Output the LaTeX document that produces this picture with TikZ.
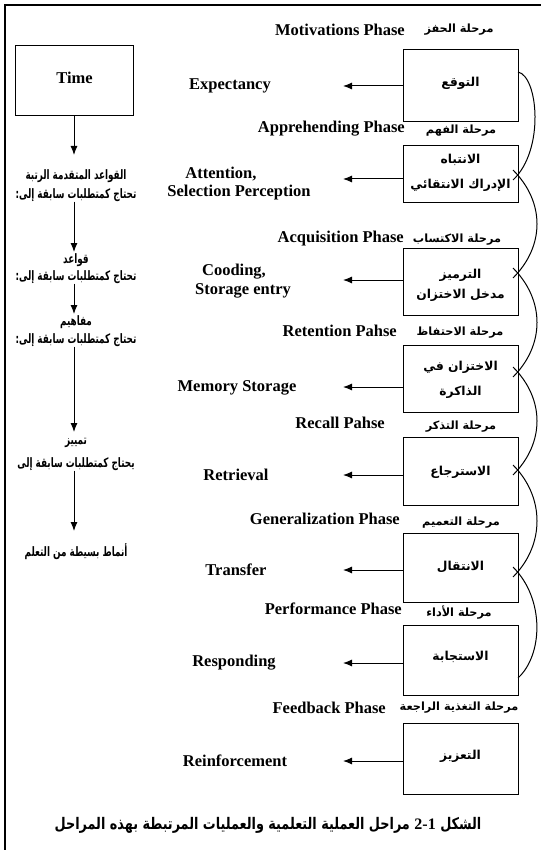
\documentclass[tikz,border=0pt]{standalone}
\usepackage{fontspec}
\setmainfont{Liberation Serif}
\newfontfamily\arfont[Script=Arabic]{DejaVu Sans}
\newfontfamily\arfontn[Script=Arabic,FakeStretch=0.68]{DejaVu Sans}
\newfontfamily\arfontc[Script=Arabic,FakeStretch=0.8]{DejaVu Sans}
\TeXXeTstate=1
\usetikzlibrary{arrows.meta}
\begin{document}
\begin{tikzpicture}[x=1pt,y=-1pt,
  box/.style={draw, line width=1pt, minimum width=115pt, inner sep=0pt},
  en/.style={font=\bfseries\fontsize{16.5}{19}\selectfont, inner sep=0pt},
  ar/.style={font=\arfont\bfseries\fontsize{12.3}{14}\selectfont, inner sep=0pt},
  ph/.style={font=\arfont\bfseries\fontsize{11.3}{14}\selectfont, inner sep=0pt},
  lft/.style={font=\arfontn\bfseries\fontsize{13}{15}\selectfont, inner sep=0pt},
  capt/.style={font=\arfontc\bfseries\fontsize{16}{19}\selectfont, inner sep=0pt},
  arr/.style={-{Latex[length=9pt,width=7pt]}, line width=1pt},
  linkarc/.style={line width=1pt}]
\useasboundingbox (0,0) rectangle (541,850);
\fill[white] (0,0) rectangle (541,850);
% frame
\draw[line width=2pt] (5,850) -- (5,5) -- (541,5);

% ---------- right column boxes ----------
\node[box, minimum height=72pt] (b1) at (460.5,86) {};
\node[box, minimum height=57pt] (b2) at (460.5,174.5) {};
\node[box, minimum height=67pt] (b3) at (460.5,281.5) {};
\node[box, minimum height=67pt] (b4) at (460.5,378.5) {};
\node[box, minimum height=68pt] (b5) at (460.5,471) {};
\node[box, minimum height=69pt] (b6) at (460.5,567.5) {};
\node[box, minimum height=70pt] (b7) at (460.5,660) {};
\node[box, minimum height=71pt] (b8) at (460.5,758.5) {};

\node[ar] (b1t) at (460.5,83) {\beginR التوقع\endR};
\node[ar] (b2t) at (460.5,160) {\beginR الانتباه\endR};
\node[ar] (b2u) at (460.5,185) {\beginR الإدراك الانتقائي\endR};
\node[ar] (b3t) at (460.5,275) {\beginR الترميز\endR};
\node[ar] (b3u) at (460.5,295) {\beginR مدخل الاختزان\endR};
\node[ar] (b4t) at (460.5,367) {\beginR الاختزان في\endR};
\node[ar] (b4u) at (460.5,392) {\beginR الذاكرة\endR};
\node[ar] (b5t) at (460.5,472) {\beginR الاسترجاع\endR};
\node[ar] (b6t) at (460.5,567) {\beginR الانتقال\endR};
\node[ar] (b7t) at (460.5,657) {\beginR الاستجابة\endR};
\node[ar] (b8t) at (460.5,756) {\beginR التعزيز\endR};

% ---------- phase labels ----------
\node[en, anchor=east] (p1) at (405,30) {Motivations Phase};
\node[en, anchor=east] (p2) at (405,129) {Apprehending Phase};
\node[en, anchor=east] (p3) at (404,239) {Acquisition Phase};
\node[en, anchor=east] (p4) at (397,331) {Retention Pahse};
\node[en, anchor=east] (p5) at (385,423) {Recall Pahse};
\node[en, anchor=east] (p6) at (400,519) {Generalization Phase};
\node[en, anchor=east] (p7) at (402,609) {Performance Phase};
\node[en, anchor=east] (p8) at (386,708) {Feedback Phase};

\node[ph] (q1) at (459,30) {\beginR مرحلة الحفز\endR};
\node[ph] (q2) at (461,131) {\beginR مرحلة الفهم\endR};
\node[ph] (q3) at (457,240) {\beginR مرحلة الاكتساب\endR};
\node[ph] (q4) at (460,333) {\beginR مرحلة الاحتفاظ\endR};
\node[ph] (q5) at (461,427) {\beginR مرحلة التذكر\endR};
\node[ph] (q6) at (461,523) {\beginR مرحلة التعميم\endR};
\node[ph] (q7) at (459,613) {\beginR مرحلة الأداء\endR};
\node[ph] (q8) at (459,708) {\beginR مرحلة التغذية الراجعة\endR};

% ---------- process labels ----------
\node[en] (e1) at (230,86) {Expectancy};
\node[en] (e2a) at (221,174) {Attention,};
\node[en] (e2b) at (239,193) {Selection Perception};
\node[en] (e3a) at (234,272) {Cooding,};
\node[en] (e3b) at (243,291) {Storage entry};
\node[en] (e4) at (237,388) {Memory Storage};
\node[en] (e5) at (236,475) {Retrieval};
\node[en] (e6) at (236,570) {Transfer};
\node[en] (e7) at (234,663) {Responding};
\node[en] (e8) at (235,761) {Reinforcement};

% arrow tips
\coordinate (k1) at (343,86);
\coordinate (k2) at (343,179);
\coordinate (k3) at (343,280);
\coordinate (k4) at (343,387);
\coordinate (k5) at (343,475);
\coordinate (k6) at (343,570);
\coordinate (k7) at (343,663);
\coordinate (k8) at (343,761);
\foreach \i in {1,...,8}{
  \draw[arr] (b\i.west |- k\i) -- (k\i);
}

% ---------- chain of arcs on the right ----------
\draw[linkarc] (518,72) .. controls (538,76) and (545,150) .. (513,180);
\draw[linkarc] (513,170) .. controls (545,202) and (545,246) .. (513,278);
\draw[linkarc] (513,268) .. controls (545,300) and (545,345) .. (513,377);
\draw[linkarc] (513,367) .. controls (545,399) and (545,443) .. (513,475);
\draw[linkarc] (513,465) .. controls (545,497) and (545,545) .. (513,577);
\draw[linkarc] (513,567) .. controls (545,599) and (543,655) .. (518,678);

% ---------- left column ----------
\node[box, minimum width=118pt, minimum height=70pt] (time) at (74.5,81) {};
\node[en] (timet) at (74.5,78) {Time};

\node[lft] (L1) at (76,176) {\beginR القواعد المتقدمة الرتبة\endR};
\node[lft] (L2) at (76,195) {\beginR تحتاج كمتطلبات سابقة إلى:\endR};
\node[lft] (L3) at (76,260) {\beginR قواعد\endR};
\node[lft] (L4) at (76,277) {\beginR تحتاج كمتطلبات سابقة إلى:\endR};
\node[lft] (L5) at (76,322) {\beginR مفاهيم\endR};
\node[lft] (L6) at (76,340) {\beginR تحتاج كمتطلبات سابقة إلى:\endR};
\node[lft] (L7) at (76,443) {\beginR تمييز\endR};
\node[lft] (L8) at (76,464) {\beginR يحتاج كمتطلبات سابقة إلى\endR};
\node[lft] (L9) at (76,552) {\beginR أنماط بسيطة من التعلم\endR};

\coordinate (a1) at (74,155);
\coordinate (a2) at (74,252);
\coordinate (a3) at (74,314);
\coordinate (a4) at (74,432);
\coordinate (a5) at (74,531);
\draw[arr] (time.south -| a1) -- (a1);
\draw[arr] (L2.south -| a2) -- (a2);
\draw[arr] (L4.south -| a3) -- (a3);
\draw[arr] (L6.south -| a4) -- (a4);
\draw[arr] (L8.south -| a5) -- (a5);

% ---------- caption ----------
\node[capt] (cap) at (268,825) {\beginR الشكل {\beginL\rmfamily 2-1\endL} مراحل العملية التعلمية والعمليات المرتبطة بهذه المراحل\endR};
\end{tikzpicture}
\end{document}
